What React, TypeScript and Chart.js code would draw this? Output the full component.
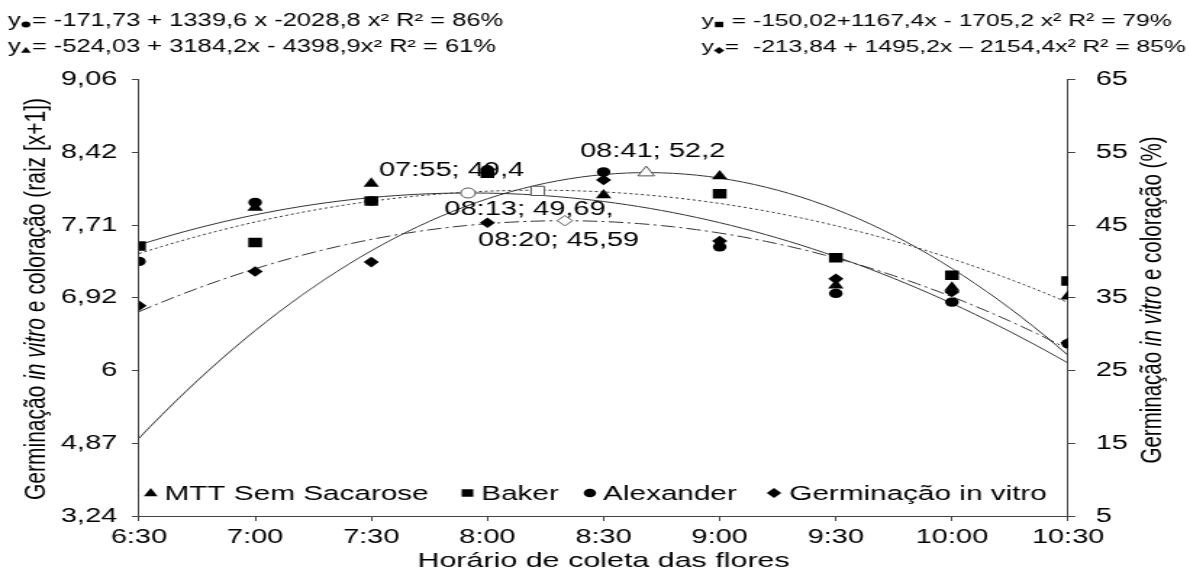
import React, { useEffect, useRef } from "react";
import { Chart, registerables } from "chart.js";
Chart.register(...registerables);

// ---- data ----
const hours = [6.5, 7, 7.5, 8, 8.5, 9, 9.5, 10, 10.5];
const xTickLabels = ["6:30", "7:00", "7:30", "8:00", "8:30", "9:00", "9:30", "10:00", "10:30"];
const leftTickLabels = ["3,24", "4,87", "6", "6,92", "7,71", "8,42", "9,06"];

const mttSemSacarose = [null, 47.4, 50.7, null, 49.1, 51.7, 36.7, 36.4, 35.2];
const baker = [42.1, 42.6, 48.3, 52.1, null, 49.3, 40.5, 38.1, 37.3];
const alexander = [40.0, 48.1, 48.3, 52.6, 52.3, 42.0, 35.6, 34.4, 28.7];
const germinacao = [33.9, 38.6, 39.9, 45.3, 51.2, 42.8, 37.6, 35.8, 28.8];

const coefMTT = [-524.03, 3184.2, -4398.9];
const coefBaker = [-150.02, 1167.4, -1705.2];
const coefAlexander = [-171.73, 1339.6, -2028.8];
const coefGerminacao = [-213.84, 1495.2, -2154.4];

const vertexLabels = ["08:41; 52,2", "08:13; 49,69,", "07:55; 49,4", "08:20; 45,59"];
const vertexHours = [8 + 41 / 60, 8 + 13 / 60, 7 + 55 / 60, 8 + 20 / 60];
const vertexValues = [52.2, 49.69, 49.4, 45.59];

const legendLabels = ["MTT Sem Sacarose", "Baker", "Alexander", "Germinação in vitro"];
const eqLeft1 = "= -171,73 + 1339,6 x -2028,8 x² R² = 86%";
const eqLeft2 = "= -524,03 + 3184,2x - 4398,9x² R² = 61%";
const eqRight1 = " = -150,02+1167,4x - 1705,2 x² R² = 79%";
const eqRight2 = "=  -213,84 + 1495,2x – 2154,4x² R² = 85%";

// ---- layout (logical canvas is stretched horizontally) ----
const LW = 821;
const LH = 576;
const S = 1190 / LW;
const FONT = "'Liberation Sans', Arial, sans-serif";

const curveHours: number[] = [];
for (let i = 0; i <= 80; i++) curveHours.push(6.5 + i * 0.05);
const quad = (c: number[], h: number) => {
  const x = h / 24;
  return c[0] + c[1] * x + c[2] * x * x;
};
const curve = (c: number[]) => curveHours.map((h) => ({ x: h, y: quad(c, h) }));
const pts = (arr: (number | null)[]) =>
  hours.map((h, i) => ({ x: h, y: arr[i] })).filter((p) => p.y !== null);

type Shape = "triangle" | "rect" | "circle" | "diamond";

function drawMarker(ctx: CanvasRenderingContext2D, shape: Shape, x: number, y: number, r: number, fill: string | null, stroke: string | null) {
  ctx.beginPath();
  if (shape === "triangle") {
    ctx.moveTo(x, y - r);
    ctx.lineTo(x + r * 0.95, y + r * 0.65);
    ctx.lineTo(x - r * 0.95, y + r * 0.65);
    ctx.closePath();
  } else if (shape === "rect") {
    ctx.rect(x - r * 0.8, y - r * 0.75, r * 1.6, r * 1.5);
  } else if (shape === "circle") {
    ctx.arc(x, y, r * 0.85, 0, Math.PI * 2);
  } else {
    ctx.moveTo(x, y - r);
    ctx.lineTo(x + r, y);
    ctx.lineTo(x, y + r);
    ctx.lineTo(x - r, y);
    ctx.closePath();
  }
  if (fill) {
    ctx.fillStyle = fill;
    ctx.fill();
  }
  if (stroke) {
    ctx.strokeStyle = stroke;
    ctx.lineWidth = 1;
    ctx.stroke();
  }
}

function drawRich(ctx: CanvasRenderingContext2D, parts: [string, boolean][], size: number) {
  let total = 0;
  const widths = parts.map(([t, it]) => {
    ctx.font = `${it ? "italic " : ""}${size}px ${FONT}`;
    const w = ctx.measureText(t).width;
    total += w;
    return w;
  });
  let x = -total / 2;
  parts.forEach(([t, it], i) => {
    ctx.font = `${it ? "italic " : ""}${size}px ${FONT}`;
    ctx.fillText(t, x, 0);
    x += widths[i];
  });
}

const overlay = {
  id: "overlay",
  afterDraw(chart: any) {
    const ctx: CanvasRenderingContext2D = chart.ctx;
    const xs = chart.scales.x;
    const ys = chart.scales.y;
    ctx.save();
    ctx.fillStyle = "#000";
    ctx.textBaseline = "alphabetic";

    // equations header
    const eq = (x: number, base: number, shape: Shape, rest: string, size: number) => {
      ctx.font = `${size}px ${FONT}`;
      ctx.textAlign = "left";
      ctx.fillStyle = "#000";
      ctx.fillText("y", x, base);
      const wy = ctx.measureText("y").width;
      drawMarker(ctx, shape, x + wy + 3.6, base - 1.5, 3.6, "#000", null);
      ctx.fillStyle = "#000";
      ctx.fillText(rest, x + wy + 7.6, base);
    };
    eq(5.5, 26, "circle", eqLeft1, 17.6);
    eq(5.5, 52, "triangle", eqLeft2, 17.6);
    eq(484, 26, "rect", eqRight1, 17);
    eq(484, 52, "diamond", eqRight2, 17);

    // vertex labels
    ctx.font = `20px ${FONT}`;
    ctx.textAlign = "center";
    ctx.textBaseline = "middle";
    const offs = [[4.5, -21], [-6, 19], [-11.4, -23], [-4.3, 19.5]];
    vertexLabels.forEach((t, i) => {
      const px = xs.getPixelForValue(vertexHours[i]);
      const py = ys.getPixelForValue(vertexValues[i]);
      ctx.fillText(t, px + offs[i][0], py + offs[i][1]);
    });

    // x title
    ctx.font = `21px ${FONT}`;
    ctx.fillText("Horário de coleta das flores", (chart.chartArea.left + chart.chartArea.right) / 2, 561);

    // left y title
    ctx.save();
    ctx.translate(25.5, 299);
    ctx.rotate(-Math.PI / 2);
    ctx.textAlign = "left";
    drawRich(ctx, [["Germinação ", false], ["in vitro", true], [" e coloração (raiz [x+1])", false]], 21);
    ctx.restore();

    // right y title
    ctx.save();
    ctx.translate(795, 300);
    ctx.rotate(-Math.PI / 2);
    ctx.textAlign = "left";
    ctx.textBaseline = "middle";
    drawRich(ctx, [["Germinação ", false], ["in vitro", true], [" e coloração (%)", false]], 20.5);
    ctx.restore();

    // legend
    const shapes: Shape[] = ["triangle", "rect", "circle", "diamond"];
    const mx = [104, 322.5, 407, 534];
    const tx = [113.5, 332, 416, 544.5];
    ctx.font = `20.5px ${FONT}`;
    ctx.textAlign = "left";
    ctx.textBaseline = "middle";
    legendLabels.forEach((t, i) => {
      drawMarker(ctx, shapes[i], mx[i], 493, 5, "#000", null);
      ctx.fillStyle = "#000";
      ctx.fillText(t, tx[i], 494);
    });
    ctx.restore();
  },
};

const tickFont = { family: FONT, size: 20 };
const axisColor = "#444";

export default function App() {
  const ref = useRef<HTMLCanvasElement | null>(null);
  useEffect(() => {
    document.body.style.margin = "0";
    const canvas = ref.current!;
    const lineDs = (c: number[], dash: number[], order: number) => ({
      data: curve(c),
      showLine: true,
      borderColor: "#333",
      borderWidth: 1,
      borderDash: dash,
      pointRadius: 0,
      fill: false,
      order,
    });
    const ptDs = (arr: (number | null)[], style: string, r: number, order: number, rot = 0) => ({
      data: pts(arr),
      showLine: false,
      pointStyle: style,
      pointRadius: r,
      pointRotation: rot,
      backgroundColor: "#000",
      borderColor: "#000",
      borderWidth: 0,
      order,
    });
    const openDs = (h: number, v: number, style: string, r: number) => ({
      data: [{ x: h, y: v }],
      showLine: false,
      pointStyle: style,
      pointRadius: r,
      backgroundColor: "#fff",
      borderColor: "#555",
      borderWidth: 1,
      order: -1,
    });
    const chart = new Chart(canvas, {
      type: "scatter",
      data: {
        datasets: [
          lineDs(coefMTT, [], 20),
          lineDs(coefBaker, [2, 2], 21),
          lineDs(coefAlexander, [], 22),
          lineDs(coefGerminacao, [10, 3, 2, 3], 23),
          ptDs(germinacao, "rectRot", 5.3, 0),
          ptDs(baker, "rect", 6.7, 1),
          ptDs(alexander, "circle", 4.7, 2),
          ptDs(mttSemSacarose, "triangle", 6.2, 3),
          openDs(vertexHours[0], vertexValues[0], "triangle", 6.5),
          openDs(vertexHours[1], vertexValues[1], "rect", 6.5),
          openDs(vertexHours[2], vertexValues[2], "circle", 5),
          openDs(vertexHours[3], vertexValues[3], "rectRot", 5.2),
        ] as any,
      },
      options: {
        animation: false,
        responsive: false,
        devicePixelRatio: 1,
        layout: { padding: { top: 79.5, left: 0, right: 0, bottom: 0 } },
        plugins: { legend: { display: false }, tooltip: { enabled: false } },
        scales: {
          x: {
            type: "linear",
            position: "bottom",
            min: 6.5,
            max: 10.5,
            afterFit: (s: any) => { s.height = 60; },
            ticks: {
              stepSize: 0.5,
              color: "#000",
              font: tickFont,
              padding: 4,
              maxRotation: 0,
              callback: (v: any) => xTickLabels[Math.round((Number(v) - 6.5) * 2)] ?? "",
            },
            grid: { drawOnChartArea: false, drawTicks: true, tickLength: 5, color: axisColor },
            border: { color: axisColor, width: 1 },
          },
          y: {
            type: "linear",
            position: "left",
            min: 5,
            max: 65,
            afterFit: (s: any) => { s.width = 95.9; },
            ticks: {
              stepSize: 10,
              color: "#000",
              font: tickFont,
              padding: 10,
              callback: (v: any) => leftTickLabels[Math.round((Number(v) - 5) / 10)] ?? "",
            },
            grid: { drawOnChartArea: false, drawTicks: true, tickLength: 5, color: axisColor },
            border: { color: axisColor, width: 1 },
          },
          y2: {
            type: "linear",
            position: "right",
            min: 5,
            max: 65,
            afterFit: (s: any) => { s.width = LW - 736.9; },
            ticks: { stepSize: 10, color: "#000", font: tickFont, padding: 14 },
            grid: { drawOnChartArea: false, drawTicks: true, tickLength: 5, color: axisColor },
            border: { color: axisColor, width: 1 },
          },
        },
      } as any,
      plugins: [overlay],
    });
    return () => chart.destroy();
  }, []);
  return (
    <canvas
      ref={ref}
      width={LW}
      height={LH}
      style={{ display: "block", width: `${LW * S}px`, height: `${LH}px` }}
    />
  );
}
